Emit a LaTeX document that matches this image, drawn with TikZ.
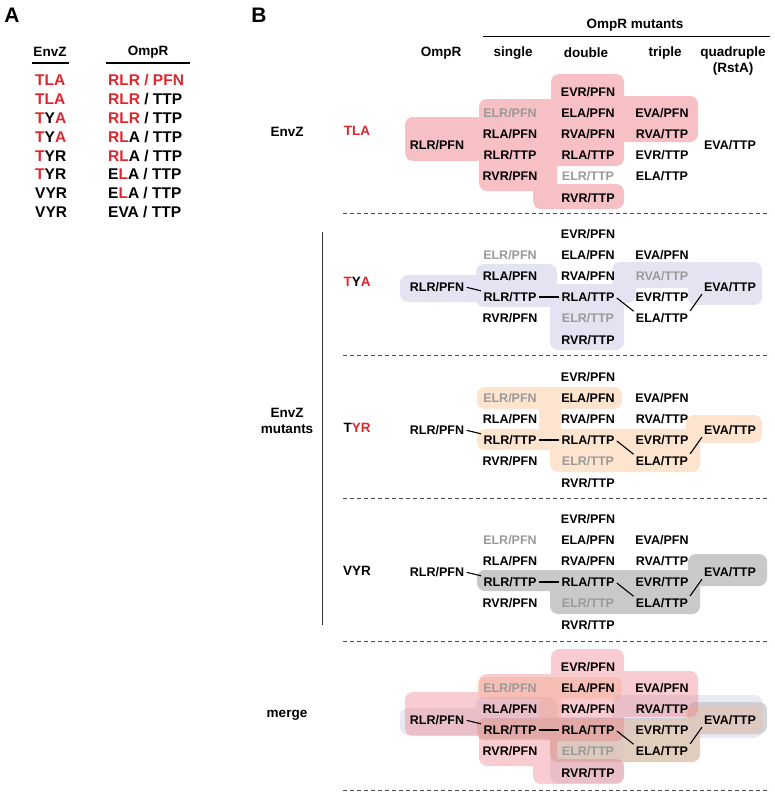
\documentclass[tikz,border=0pt]{standalone}
\usepackage{fontspec}
\setmainfont{Liberation Sans}
\usetikzlibrary{positioning}

\definecolor{mutred}{HTML}{E2252B}
\definecolor{fadegrey}{HTML}{9A9A9A}
\definecolor{tlapink}{RGB}{235,115,124}
\definecolor{tyalilac}{RGB}{193,193,224}
\definecolor{tyrpeach}{RGB}{251,195,146}
\definecolor{vyrgrey}{RGB}{135,135,135}

% grid of OmpR variants, #1 = prefix, #2 = y of the RLR/TTP row, #3 = colour of RVA/TTP
\newcommand{\ompgrid}[3]{%
  \node[cell]  (#1rlrpfn) at (437,#2-10) {RLR/PFN};
  \node[faded] (#1elrpfn) at (510,#2-42) {ELR/PFN};
  \node[cell]  (#1rlapfn) at (510,#2-21) {RLA/PFN};
  \node[cell]  (#1rlrttp) at (510,#2)    {RLR/TTP};
  \node[cell]  (#1rvrpfn) at (510,#2+21) {RVR/PFN};
  \node[cell]  (#1evrpfn) at (588,#2-63) {EVR/PFN};
  \node[cell]  (#1elapfn) at (588,#2-42) {ELA/PFN};
  \node[cell]  (#1rvapfn) at (588,#2-21) {RVA/PFN};
  \node[cell]  (#1rlattp) at (588,#2)    {RLA/TTP};
  \node[faded] (#1elrttp) at (588,#2+21) {ELR/TTP};
  \node[cell]  (#1rvrttp) at (588,#2+43) {RVR/TTP};
  \node[cell]  (#1evapfn) at (662,#2-42) {EVA/PFN};
  \node[cell, text=#3] (#1rvattp) at (662,#2-21) {RVA/TTP};
  \node[cell]  (#1evrttp) at (662,#2)    {EVR/TTP};
  \node[cell]  (#1elattp) at (662,#2+21) {ELA/TTP};
  \node[cell]  (#1evattp) at (730,#2-10) {EVA/TTP};
}
\newcommand{\omplinks}[1]{%
  \draw[link] (#1rlrpfn.east) -- (#1rlrttp.north west);
  \draw[link] (#1rlrttp.east) -- (#1rlattp.west);
  \draw[link] (#1rlattp.east) -- (#1elattp.north west);
  \draw[link] (#1elattp.north east) -- (#1evattp.south west);
}
% shaded regions, #1 = y of the RLR/TTP row, #2 = opacity style
\newcommand{\blobtla}[2]{%
  \fill[tlapink, blob, #2]
    (405,#1-38) rectangle (484,#1+6)
    (479,#1-56) rectangle (557,#1+36)
    (551,#1-81) rectangle (624,#1+11)
    (600,#1-59) rectangle (698,#1-13)
    (533,#1+29) rectangle (624,#1+54);}
\newcommand{\blobtya}[2]{%
  \fill[tyalilac, blob, #2]
    (400,#1-22) rectangle (484,#1+5)
    (476,#1-33) rectangle (557,#1+10)
    (550,#1-13) rectangle (624,#1+53)
    (616,#1-31) rectangle (636,#1+6)
    (612,#1-35) rectangle (697,#1-9)
    (688,#1-35) rectangle (762,#1+8);}
\newcommand{\blobtyr}[2]{%
  \fill[tyrpeach, blob, #2]
    (477,#1-53) rectangle (622,#1-31)
    (539,#1-40) rectangle (561,#1-2)
    (477,#1-11) rectangle (700,#1+10)
    (550,#1-11) rectangle (700,#1+32)
    (686,#1-25) rectangle (762,#1+3);}
\newcommand{\blobvyr}[2]{%
  \fill[vyrgrey, blob, #2]
    (477,#1-12) rectangle (700,#1+9)
    (550,#1-12) rectangle (700,#1+32)
    (688,#1-28) rectangle (767,#1+4);}

\begin{document}
\begin{tikzpicture}[x=1pt, y=-1pt,
                    cell/.style={font=\fontsize{12.5}{14}\selectfont\bfseries, inner sep=1pt},
                    faded/.style={cell, text=fadegrey},
                    head/.style={font=\fontsize{13.5}{16}\selectfont\bfseries, inner sep=1pt, align=center},
                    rowA/.style={font=\fontsize{15.5}{18}\selectfont\bfseries, inner sep=0pt, anchor=west},
                    panel/.style={font=\fontsize{21}{24}\selectfont\bfseries, inner sep=0pt},
                    blob/.style={rounded corners=8pt},
                    sectop/.style={fill opacity=0.45},
                    mergeop/.style={fill opacity=0.36},
                    link/.style={line width=1.1pt, shorten <=1.5pt, shorten >=1.5pt},
                    sep/.style={dash pattern=on 4pt off 3pt, line width=0.8pt, black!70},
                    ]
    \useasboundingbox (0,0) rectangle (775,800);

    %Panel A
    \node[panel] (labA) at (12,15) {A};
    \node[head]  (hdenvz) at (50,52)  {EnvZ};
    \node[head]  (hdompr) at (148,52) {OmpR};
    \draw[line width=1.4pt] (32,63) -- (69,63);
    \draw[line width=1.4pt] (106,63) -- (190,63);

    \node[rowA] (a1z) at (35,80)  {\textcolor{mutred}{TLA}};
    \node[rowA] (a2z) at (35,99)  {\textcolor{mutred}{TLA}};
    \node[rowA] (a3z) at (35,118) {\textcolor{mutred}{T}Y\textcolor{mutred}{A}};
    \node[rowA] (a4z) at (35,137) {\textcolor{mutred}{T}Y\textcolor{mutred}{A}};
    \node[rowA] (a5z) at (35,156) {\textcolor{mutred}{T}YR};
    \node[rowA] (a6z) at (35,174) {\textcolor{mutred}{T}YR};
    \node[rowA] (a7z) at (35,193) {VYR};
    \node[rowA] (a8z) at (35,212) {VYR};

    \node[rowA] (a1r) at (108,80)  {\textcolor{mutred}{RLR / PFN}};
    \node[rowA] (a2r) at (108,99)  {\textcolor{mutred}{RLR} / TTP};
    \node[rowA] (a3r) at (108,118) {\textcolor{mutred}{RLR} / TTP};
    \node[rowA] (a4r) at (108,137) {\textcolor{mutred}{RL}A / TTP};
    \node[rowA] (a5r) at (108,156) {\textcolor{mutred}{RL}A / TTP};
    \node[rowA] (a6r) at (108,174) {E\textcolor{mutred}{L}A / TTP};
    \node[rowA] (a7r) at (108,193) {E\textcolor{mutred}{L}A / TTP};
    \node[rowA] (a8r) at (108,212) {EVA / TTP};

    %Panel B headers
    \node[panel] (labB) at (259,15) {B};
    \node[head] (hdmut)    at (635,25) {OmpR mutants};
    \draw[line width=1pt] (483,37) -- (770,37);
    \node[head] (hdwt)     at (441,53) {OmpR};
    \node[head] (hdsingle) at (513,53) {single};
    \node[head] (hddouble) at (586,53) {double};
    \node[head] (hdtriple) at (665,53) {triple};
    \node[head] (hdquad)   at (733,61) {quadruple\\(RstA)};

    %Shaded regions
    \blobtla{155}{sectop}
    \blobtya{297}{sectop}
    \blobtyr{440}{sectop}
    \blobvyr{582}{sectop}
    \blobvyr{730}{mergeop}
    \blobtya{730}{mergeop}
    \blobtyr{730}{mergeop}
    \blobtla{730}{mergeop}

    %Row labels
    \node[head] (envz)    at (287,132) {EnvZ};
    \node[head] (envzmut) at (287,421) {EnvZ\\mutants};
    \node[head] (merge)   at (287,715) {merge};
    \node[head] (tla) at (357,131) {\textcolor{mutred}{TLA}};
    \node[head] (tya) at (357,282) {\textcolor{mutred}{T}Y\textcolor{mutred}{A}};
    \node[head] (tyr) at (357,428) {T\textcolor{mutred}{YR}};
    \node[head] (vyr) at (357,571) {VYR};
    \draw[line width=1pt, black!80] (322,232) -- (322,625);

    %Grids
    \ompgrid{tla}{155}{black}
    \ompgrid{tya}{297}{fadegrey}
    \ompgrid{tyr}{440}{black}
    \ompgrid{vyr}{582}{black}
    \ompgrid{mrg}{730}{black}
    \omplinks{tya}
    \omplinks{tyr}
    \omplinks{vyr}
    \omplinks{mrg}

    %Separators
    \draw[sep] (343,213) -- (770,213);
    \draw[sep] (343,355) -- (770,355);
    \draw[sep] (343,498) -- (770,498);
    \draw[sep] (343,641) -- (770,641);
    \draw[sep] (343,790) -- (770,790);
\end{tikzpicture}
\end{document}
